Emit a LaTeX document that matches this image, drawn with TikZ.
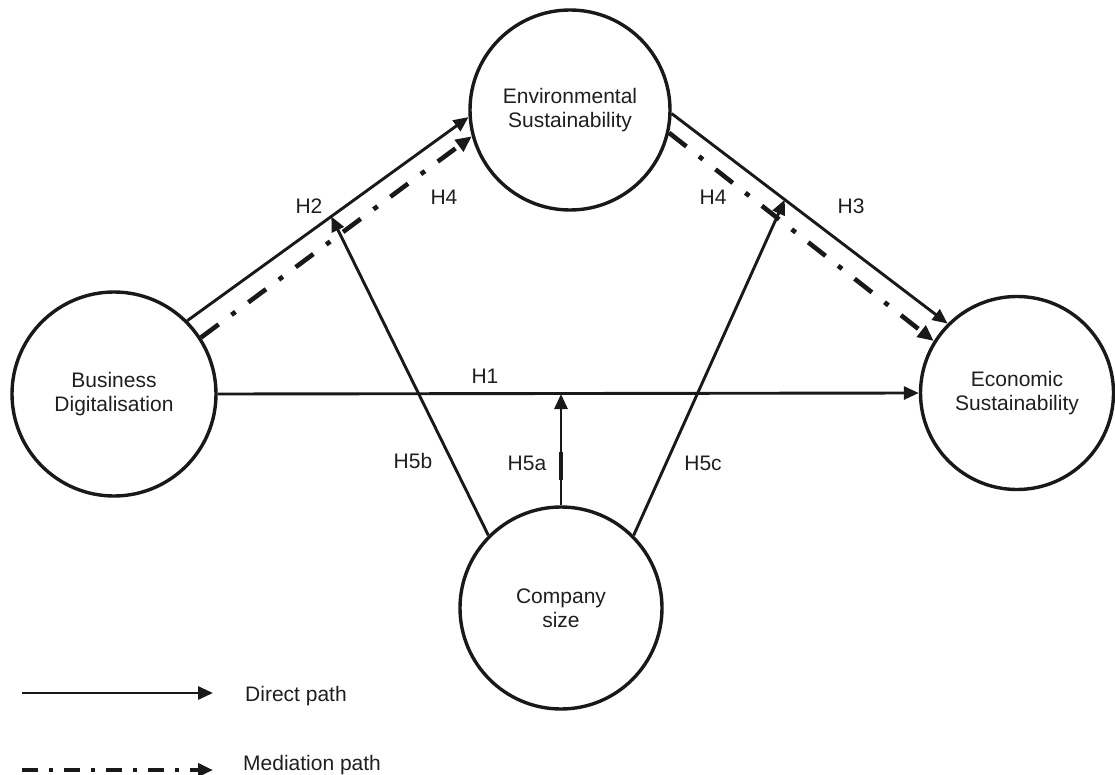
\documentclass[tikz,border=0pt]{standalone}
\usepackage{fontspec}
\setmainfont{Liberation Sans}
\usetikzlibrary{arrows.meta,calc}
\begin{document}
\begin{tikzpicture}[x=1pt,y=-1pt,
  every node/.style={font=\fontsize{21}{24}\selectfont, text=black!88},
  var/.style={draw=black!90, circle, line width=3.4pt, inner sep=0pt, align=center},
  direct/.style={draw=black!90, line width=2.9pt, -{Triangle[length=15pt,width=13pt]}},
  mediation/.style={draw=black!90, line width=4.6pt, dash pattern=on 22pt off 16pt on 5pt off 16pt, -{Triangle[length=16pt,width=14pt]}},
  legmed/.style={draw=black!90, line width=4.4pt, dash pattern=on 16pt off 11pt on 4pt off 11pt, -{Triangle[length=15pt,width=13pt]}},
  lbl/.style={inner sep=0pt}
]
\useasboundingbox (0,0) rectangle (1115,775);

% constructs
\node[var, minimum size=204pt] (bd) at (114,394) {Business\\Digitalisation};
\node[var, minimum size=200pt] (es) at (570,110) {Environmental\\Sustainability};
\node[var, minimum size=193pt] (ec) at (1017,393) {Economic\\Sustainability};
\node[var, minimum size=202pt] (cs) at (561,608) {Company\\size};

% helper points on paths
\coordinate (h2pt) at ($(bd.45)!0.512!(es.184)$);
\coordinate (h3pt) at ($(es.358)!0.41!(ec.135)$);
\coordinate (h1pt) at (bd.east -| cs.north);

% direct and mediation paths
\draw[direct] (bd.45) -- (es.184);
\draw[mediation] (bd.33) -- (es.195);
\draw[direct] (es.358) -- (ec.135);
\draw[mediation] (es.347) -- (ec.148);
\draw[direct] (bd.east) -- (ec.west);

% moderation paths
\draw[direct] (cs.north) -- (h1pt);
\draw[draw=black!90, line width=4.8pt] ($(cs.north)!0.23!(h1pt)$) -- ($(cs.north)!0.48!(h1pt)$);
\draw[direct] (cs.135) -- (h2pt);
\draw[direct] (cs.45) -- (h3pt);

% labels
\node[lbl] (lh2) at (309,206) {H2};
\node[lbl] (lh4a) at (444,197) {H4};
\node[lbl] (lh4b) at (713,197) {H4};
\node[lbl] (lh3) at (851,206) {H3};
\node[lbl] (lh1) at (485,376) {H1};
\node[lbl] (lh5b) at (413,461) {H5b};
\node[lbl] (lh5a) at (527,463) {H5a};
\node[lbl] (lh5c) at (703,463) {H5c};

% legend
\coordinate (la1) at (22,693);
\coordinate (la2) at (213,693);
\draw[direct] (la1) -- (la2);
\node[lbl, anchor=base west] (ld) at (245,701) {Direct path};
\coordinate (lb1) at (22,770);
\coordinate (lb2) at (213,770);
\draw[legmed] (lb1) -- (lb2);
\node[lbl, anchor=base west] (lm) at (243,770) {Mediation path};
\end{tikzpicture}
\end{document}
